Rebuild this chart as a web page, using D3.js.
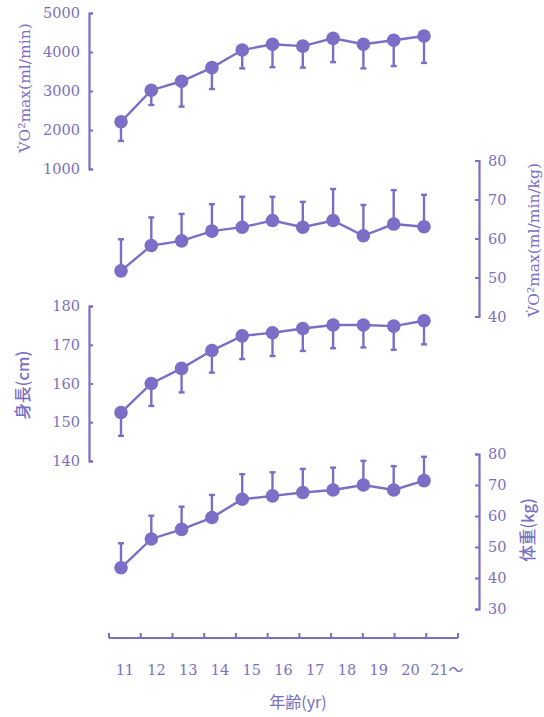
<!DOCTYPE html>
<html>
<head>
<meta charset="utf-8">
<script src="https://cdn.jsdelivr.net/npm/d3@7"></script>
<style>
  body { margin: 0; background: #fff; }
  svg text { fill: #7a6fc2; font-family: "DejaVu Serif", serif; }
  .cjk { font-family: "Noto Sans CJK JP", "DejaVu Serif", sans-serif; }
</style>
</head>
<body>
<div id="chart"></div>
<script>
// ages on the x axis
const ages = ["11", "12", "13", "14", "15", "16", "17", "18", "19", "20", "21"];
const ageLabels = ["11", "12", "13", "14", "15", "16", "17", "18", "19", "20", "21"];

// VO2max (ml/min), mean and SD
const vo2Abs = [2210, 3020, 3250, 3600, 4050, 4200, 4150, 4350, 4200, 4300, 4410];
const vo2AbsSD = [490, 380, 650, 550, 470, 590, 550, 610, 620, 660, 690];
// VO2max (ml/min/kg)
const vo2Rel = [51.7, 58.2, 59.4, 61.9, 62.9, 64.6, 62.9, 64.6, 60.7, 63.7, 63.0];
const vo2RelSD = [8.1, 7.2, 6.9, 6.9, 7.8, 6.1, 6.5, 8.1, 7.9, 8.7, 8.2];
// height (cm)
const stature = [152.5, 160.0, 163.9, 168.5, 172.3, 173.1, 174.2, 175.1, 175.1, 174.8, 176.2];
const statureSD = [6.0, 5.8, 6.2, 5.7, 6.0, 6.0, 5.8, 6.0, 5.8, 6.1, 6.1];
// weight (kg)
const weight = [43.3, 52.6, 55.7, 59.5, 65.4, 66.5, 67.6, 68.4, 70.0, 68.4, 71.4];
const weightSD = [7.9, 7.5, 7.3, 7.3, 8.1, 7.6, 7.6, 7.2, 7.8, 7.7, 7.7];

const color = "#7a6ec6";
const width = 544, height = 717;

const svg = d3.select("#chart").append("svg")
  .attr("width", width)
  .attr("height", height);

// points sit on their own scale, the printed axis uses a band scale
const x = d3.scalePoint().domain(ages).range([121, 424]);
const xBand = d3.scaleBand().domain(ages).range([109, 458]);

// dir: -1 = SD drawn below the mean, 1 = above
const panels = [
  { values: vo2Abs, sd: vo2AbsSD, domain: [1000, 5000], range: [169, 13], ticks: [1000, 2000, 3000, 4000, 5000],
    side: "left", dir: -1, label: "V̇O²max(ml/min)", lx: 25, ly: 88, cjk: false },
  { values: vo2Rel, sd: vo2RelSD, domain: [40, 80], range: [316.5, 160.5], ticks: [40, 50, 60, 70, 80],
    side: "right", dir: 1, label: "V̇O²max(ml/min/kg)", lx: 534, ly: 240, cjk: false },
  { values: stature, sd: statureSD, domain: [140, 180], range: [461, 306], ticks: [140, 150, 160, 170, 180],
    side: "left", dir: -1, label: "身長(cm)", lx: 23, ly: 385, cjk: true },
  { values: weight, sd: weightSD, domain: [30, 80], range: [609, 454], ticks: [30, 40, 50, 60, 70, 80],
    side: "right", dir: 1, label: "体重(kg)", lx: 528, ly: 530, cjk: true }
];

panels.forEach(p => {
  const y = d3.scaleLinear().domain(p.domain).range(p.range);
  const g = svg.append("g");

  // axis with small inward ticks
  const axis = p.side === "left" ? d3.axisLeft(y) : d3.axisRight(y);
  axis.tickValues(p.ticks).tickFormat(d3.format("d"))
    .tickSizeInner(-4).tickSizeOuter(-4).tickPadding(9);
  const ax = g.append("g")
    .attr("transform", "translate(" + (p.side === "left" ? 89 : 479) + ",0)")
    .call(axis);
  ax.select(".domain").attr("stroke", color).attr("stroke-width", 2.2);
  ax.selectAll(".tick line").attr("stroke", color).attr("stroke-width", 2);
  ax.selectAll(".tick text")
    .attr("font-size", 14.5)
    .attr("font-family", "DejaVu Serif")
    .attr("fill", "#7a6fc2");

  const rows = ages.map((a, i) => ({ age: a, v: p.values[i], sd: p.sd[i] }));
  const end = d => y(d.v + p.dir * d.sd);

  // error bars (one-sided)
  g.selectAll(".err").data(rows).enter().append("line")
    .attr("x1", d => x(d.age)).attr("x2", d => x(d.age))
    .attr("y1", d => y(d.v))
    .attr("y2", end)
    .attr("stroke", color).attr("stroke-width", 2.4);
  g.selectAll(".cap").data(rows).enter().append("line")
    .attr("x1", d => x(d.age) - 3).attr("x2", d => x(d.age) + 3)
    .attr("y1", end)
    .attr("y2", end)
    .attr("stroke", color).attr("stroke-width", 2.4);

  // mean line and markers
  g.append("path")
    .datum(rows)
    .attr("fill", "none")
    .attr("stroke", color)
    .attr("stroke-width", 2.4)
    .attr("d", d3.line().x(d => x(d.age)).y(d => y(d.v)));
  g.selectAll(".dot").data(rows).enter().append("circle")
    .attr("cx", d => x(d.age))
    .attr("cy", d => y(d.v))
    .attr("r", 6.8)
    .attr("fill", color);

  g.append("text")
    .attr("class", p.cjk ? "cjk" : null)
    .attr("transform", "translate(" + p.lx + "," + p.ly + ") rotate(-90)")
    .attr("text-anchor", "middle")
    .attr("dy", "0.35em")
    .attr("font-size", p.cjk ? 16.5 : 15.5)
    .attr("font-weight", p.cjk ? 500 : null)
    .text(p.label);
});

// bottom age axis: ticks at the band edges, labels at the band centres
const edges = ages.map(a => xBand(a)).concat([xBand.range()[1]]);
const xg = svg.append("g").attr("transform", "translate(0,638)");
xg.append("line")
  .attr("x1", edges[0]).attr("x2", edges[edges.length - 1])
  .attr("stroke", color).attr("stroke-width", 2.2);
xg.selectAll(".xt").data(edges).enter().append("line")
  .attr("x1", d => d).attr("x2", d => d)
  .attr("y1", 0).attr("y2", -5)
  .attr("stroke", color).attr("stroke-width", 2);
const xl = xg.selectAll(".xl").data(ages).enter().append("text")
  .attr("x", d => xBand(d) + xBand.bandwidth() / 2)
  .attr("dx", (d, i) => i === ages.length - 1 ? -4 : 0)
  .attr("y", 37)
  .attr("text-anchor", "middle")
  .attr("font-size", 14.5)
  .text((d, i) => ageLabels[i]);
// open-ended last class: "21～"
xl.filter((d, i) => i === ages.length - 1)
  .attr("text-anchor", "start")
  .attr("dx", -12)
  .append("tspan")
  .attr("class", "cjk")
  .attr("font-size", 15)
  .text("～");

svg.append("text")
  .attr("class", "cjk")
  .attr("x", 298)
  .attr("y", 708)
  .attr("text-anchor", "middle")
  .attr("font-size", 16)
  .text("年齢(yr)");
</script>
</body>
</html>
